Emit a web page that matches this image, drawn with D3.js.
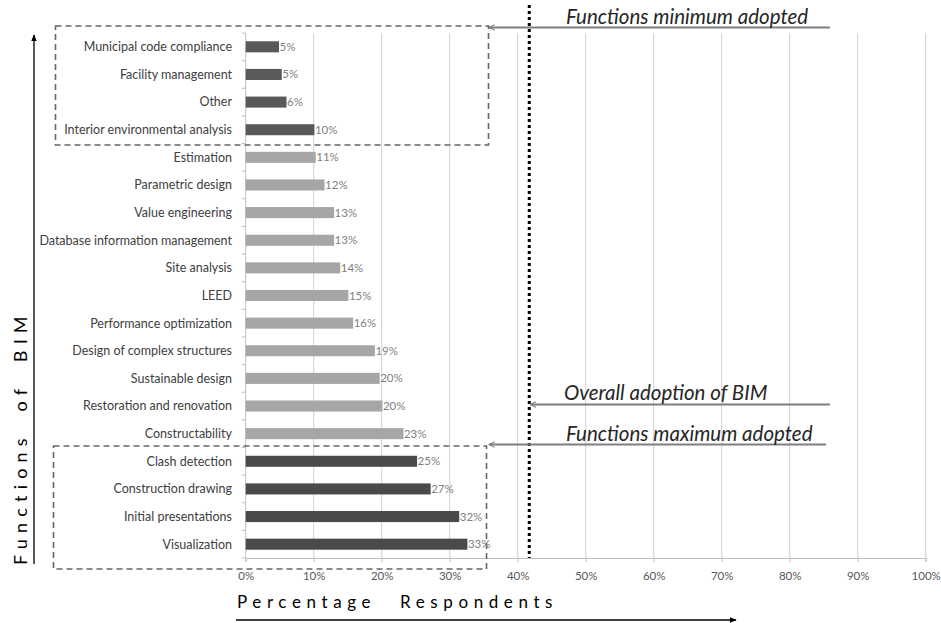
<!DOCTYPE html>
<html>
<head>
<meta charset="utf-8">
<script src="https://cdn.jsdelivr.net/npm/d3@7"></script>
<style>
  html, body { margin: 0; padding: 0; background: #fff; }
  svg { display: block; font-family: Lato, "Open Sans", sans-serif; }
</style>
</head>
<body>
<svg id="chart" width="941" height="623"></svg>
<script>
// ---- data ----
const categories = [
  "Municipal code compliance", "Facility management", "Other", "Interior environmental analysis",
  "Estimation", "Parametric design", "Value engineering", "Database information management",
  "Site analysis", "LEED", "Performance optimization", "Design of complex structures",
  "Sustainable design", "Restoration and renovation", "Constructability",
  "Clash detection", "Construction drawing", "Initial presentations", "Visualization"
];
const values = [4.9, 5.3, 6.0, 10.1, 10.3, 11.6, 13.0, 13.0, 13.9, 15.1, 15.8, 19.0,
                19.7, 20.1, 23.2, 25.2, 27.2, 31.4, 32.6];
const valueLabels = ["5%", "5%", "6%", "10%", "11%", "12%", "13%", "13%", "14%", "15%", "16%",
                     "19%", "20%", "20%", "23%", "25%", "27%", "32%", "33%"];
const groups = ["min","min","min","min","mid","mid","mid","mid","mid","mid","mid","mid",
                "mid","mid","mid","max","max","max","max"];
const xTicks = [0, 10, 20, 30, 40, 50, 60, 70, 80, 90, 100];
const xTickLabels = ["0%","10%","20%","30%","40%","50%","60%","70%","80%","90%","100%"];
const overallAdoption = 41.7;
const annotations = ["Functions minimum adopted", "Overall adoption of BIM", "Functions maximum adopted"];
const yTitle = "Functions of BIM";
const xTitle = "Percentage Respondents";

// ---- layout ----
const svg = d3.select("#chart");
const x = d3.scaleLinear().domain([0, 100]).range([245.7, 925.7]);
const y = d3.scaleBand().domain(categories).range([33, 558]).paddingInner(0.6).paddingOuter(0.3);
const color = d3.scaleOrdinal().domain(["min","mid","max"]).range(["#595959","#a6a6a6","#4a4a4a"]);

const defs = svg.append("defs");
function marker(id, col, open) {
  const m = defs.append("marker").attr("id", id).attr("viewBox", "0 0 10 10")
    .attr("refX", 9).attr("refY", 5).attr("markerWidth", 7).attr("markerHeight", 7)
    .attr("markerUnits", "userSpaceOnUse").attr("orient", "auto-start-reverse");
  if (open) {
    m.append("path").attr("d", "M1,1 L9,5 L1,9").attr("fill", "none").attr("stroke", col).attr("stroke-width", 1.5);
  } else {
    m.append("path").attr("d", "M0,1 L10,5 L0,9 Z").attr("fill", col);
  }
}
marker("arrGrey", "#7f7f7f", true);
marker("arrBlack", "#000", false);

// gridlines
svg.append("g").selectAll("line").data(xTicks.filter(d => d > 0)).join("line")
  .attr("x1", d => x(d)).attr("x2", d => x(d)).attr("y1", 33).attr("y2", 558)
  .attr("stroke", "#d0d0d0").attr("stroke-width", 1);

// x axis
const xAxis = d3.axisBottom(x).tickValues(xTicks).tickFormat((d, i) => xTickLabels[i]).tickSize(4).tickPadding(10);
const gx = svg.append("g").attr("transform", "translate(0,558)").call(xAxis);
gx.select(".domain").attr("stroke", "#bfbfbf");
gx.selectAll(".tick line").attr("stroke", "#bfbfbf");
gx.selectAll(".tick text").attr("fill", "#595959").attr("font-size", 11.5).attr("font-family", "Lato, sans-serif");

// y axis line with ticks between categories
svg.append("line").attr("x1", x(0)).attr("x2", x(0)).attr("y1", 33).attr("y2", 558)
  .attr("stroke", "#bfbfbf");
svg.append("g").selectAll("line").data(d3.range(categories.length + 1)).join("line")
  .attr("x1", x(0) - 4).attr("x2", x(0))
  .attr("y1", i => 33 + i * (525 / categories.length))
  .attr("y2", i => 33 + i * (525 / categories.length))
  .attr("stroke", "#bfbfbf");

// category labels
svg.append("g").selectAll("text").data(categories).join("text")
  .attr("x", 232).attr("y", d => y(d) + y.bandwidth() / 2).attr("dy", "0.35em")
  .attr("text-anchor", "end").attr("font-size", 12.5).attr("fill", "#404040").text(d => d);

// bars
svg.append("g").selectAll("rect").data(categories).join("rect")
  .attr("x", x(0)).attr("y", d => y(d))
  .attr("width", (d, i) => x(values[i]) - x(0)).attr("height", y.bandwidth())
  .attr("fill", (d, i) => color(groups[i]));

// value labels
svg.append("g").selectAll("text").data(categories).join("text")
  .attr("x", (d, i) => x(values[i]) + 0.5).attr("y", d => y(d) + y.bandwidth() / 2).attr("dy", "0.35em")
  .attr("font-size", 11.5).attr("fill", "#7f7f7f").text((d, i) => valueLabels[i]);

// dashed group boxes
svg.append("rect").attr("x", 55.5).attr("y", 26).attr("width", 433).attr("height", 119)
  .attr("fill", "none").attr("stroke", "#666").attr("stroke-width", 1.6).attr("stroke-dasharray", "6,4");
svg.append("rect").attr("x", 53.5).attr("y", 446).attr("width", 433).attr("height", 123)
  .attr("fill", "none").attr("stroke", "#666").attr("stroke-width", 1.6).attr("stroke-dasharray", "6,4");

// overall adoption dotted line
svg.append("line").attr("x1", x(overallAdoption)).attr("x2", x(overallAdoption)).attr("y1", 5).attr("y2", 558)
  .attr("stroke", "#000").attr("stroke-width", 3).attr("stroke-dasharray", "3,3");

// annotation arrows
const ann = [
  { t: annotations[0], tx: 566, ty: 24, ly: 27.5, x1: 830, x2: 489 },
  { t: annotations[1], tx: 564, ty: 400, ly: 404.5, x1: 830, x2: x(overallAdoption) + 1 },
  { t: annotations[2], tx: 566, ty: 441, ly: 444.5, x1: 826, x2: 489 }
];
ann.forEach(a => {
  svg.append("line").attr("x1", a.x1).attr("x2", a.x2).attr("y1", a.ly).attr("y2", a.ly)
    .attr("stroke", "#7f7f7f").attr("stroke-width", 2).attr("marker-end", "url(#arrGrey)");
  svg.append("text").attr("x", a.tx).attr("y", a.ty).attr("font-size", 20.5).attr("font-style", "italic")
    .attr("fill", "#262626").text(a.t);
});

// y axis title with arrow
svg.append("text").attr("transform", "translate(27,565) rotate(-90)")
  .attr("font-size", 18).attr("letter-spacing", 6.2).attr("word-spacing", 10).attr("fill", "#000")
  .text(yTitle);
svg.append("line").attr("x1", 34).attr("x2", 34).attr("y1", 564).attr("y2", 35)
  .attr("stroke", "#000").attr("stroke-width", 1.3).attr("marker-end", "url(#arrBlack)");

// x axis title with arrow
svg.append("text").attr("x", 237).attr("y", 608)
  .attr("font-size", 17).attr("letter-spacing", 5.6).attr("word-spacing", 14).attr("fill", "#000")
  .text(xTitle);
svg.append("line").attr("x1", 236).attr("x2", 736).attr("y1", 620).attr("y2", 620)
  .attr("stroke", "#000").attr("stroke-width", 1.3).attr("marker-end", "url(#arrBlack)");
</script>
</body>
</html>
